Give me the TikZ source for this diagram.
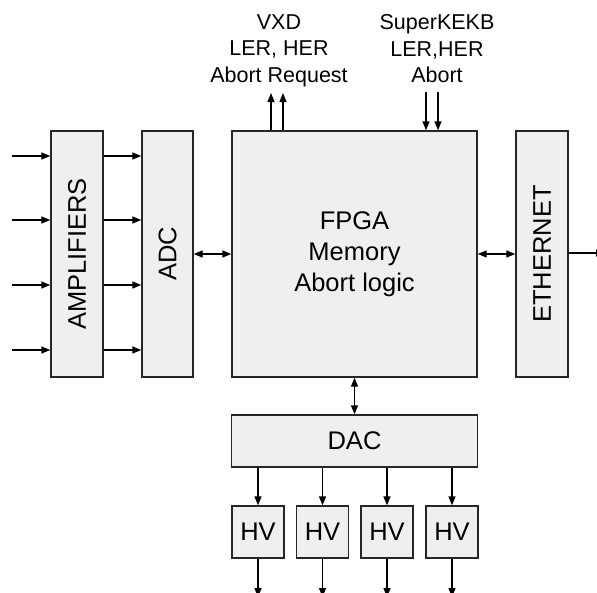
\documentclass[tikz,border=0pt]{standalone}
\usepackage{fontspec}
\setmainfont{Liberation Sans}
\usetikzlibrary{arrows.meta}
\definecolor{boxgray}{HTML}{EFEFEF}

\begin{document}
\begin{tikzpicture}[
  x=1pt, y=-1pt,
  box/.style={draw=black!85, fill=boxgray, line width=1.4pt, inner sep=0pt, align=center, font=\fontsize{25.5}{31}\selectfont},
  arrow/.style={-{Triangle[length=9pt,width=7pt]}, line width=1.4pt},
  biarrow/.style={{Triangle[length=9pt,width=7pt]}-{Triangle[length=9pt,width=7pt]}, line width=1.4pt},
  signal/.style={inner sep=0pt, align=center, anchor=north, font=\fontsize{21.5}{26.5}\selectfont}
]
\useasboundingbox (0,0) rectangle (597,592);
% main blocks
\node[box, minimum width=52pt, minimum height=246pt] (amp) at (77,254) {\rotatebox{90}{AMPLIFIERS}};
\node[box, minimum width=51pt, minimum height=246pt] (adc) at (167.5,254) {\rotatebox{90}{ADC}};
\node[box, minimum width=245pt, minimum height=246pt] (fpga) at (354.5,254) {FPGA\\Memory\\Abort logic};
\node[box, minimum width=52pt, minimum height=246pt] (eth) at (542,254) {\rotatebox{90}{ETHERNET}};
\node[box, minimum width=246pt, minimum height=52pt] (dac) at (354.5,441) {DAC};
\node[box, minimum width=52pt, minimum height=52pt] (hv1) at (258,532) {HV};
\node[box, minimum width=52pt, minimum height=52pt] (hv2) at (322.5,532) {HV};
\node[box, minimum width=52pt, minimum height=52pt] (hv3) at (387,532) {HV};
\node[box, minimum width=52pt, minimum height=52pt] (hv4) at (452,532) {HV};
% signal labels
\node[signal] (vxd) at (279,14.5) {VXD\\LER, HER\\Abort Request};
\node[signal] (kekb) at (437,14.5) {SuperKEKB\\LER,HER\\Abort};
% free ends
\coordinate (in1) at (12,156);
\coordinate (in2) at (12,220);
\coordinate (in3) at (12,285);
\coordinate (in4) at (12,350);
\coordinate (req1) at (271,93);
\coordinate (req2) at (283,93);
\coordinate (abt1) at (426,92);
\coordinate (abt2) at (438,92);
\coordinate (net) at (605,253);
\coordinate (out1) at (258,597);
\coordinate (out2) at (322.5,597);
\coordinate (out3) at (387,597);
\coordinate (out4) at (452,597);
% inputs to amplifiers
\draw[arrow] (in1) -- (amp.west |- in1);
\draw[arrow] (in2) -- (amp.west |- in2);
\draw[arrow] (in3) -- (amp.west |- in3);
\draw[arrow] (in4) -- (amp.west |- in4);
% amplifiers to adc
\draw[arrow] (amp.east |- in1) -- (adc.west |- in1);
\draw[arrow] (amp.east |- in2) -- (adc.west |- in2);
\draw[arrow] (amp.east |- in3) -- (adc.west |- in3);
\draw[arrow] (amp.east |- in4) -- (adc.west |- in4);
% fpga links
\draw[biarrow] (adc) -- (fpga);
\draw[biarrow] (fpga) -- (eth);
\draw[biarrow] (fpga) -- (dac);
\draw[arrow] (eth.east |- net) -- (net);
\draw[arrow] (fpga.north -| req1) -- (req1);
\draw[arrow] (fpga.north -| req2) -- (req2);
\draw[arrow] (abt1) -- (fpga.north -| abt1);
\draw[arrow] (abt2) -- (fpga.north -| abt2);
% dac to hv
\draw[arrow] (dac.south -| hv1) -- (hv1);
\draw[arrow] (dac.south -| hv2) -- (hv2);
\draw[arrow] (dac.south -| hv3) -- (hv3);
\draw[arrow] (dac.south -| hv4) -- (hv4);
\draw[arrow] (hv1) -- (out1);
\draw[arrow] (hv2) -- (out2);
\draw[arrow] (hv3) -- (out3);
\draw[arrow] (hv4) -- (out4);
\end{tikzpicture}
\end{document}
